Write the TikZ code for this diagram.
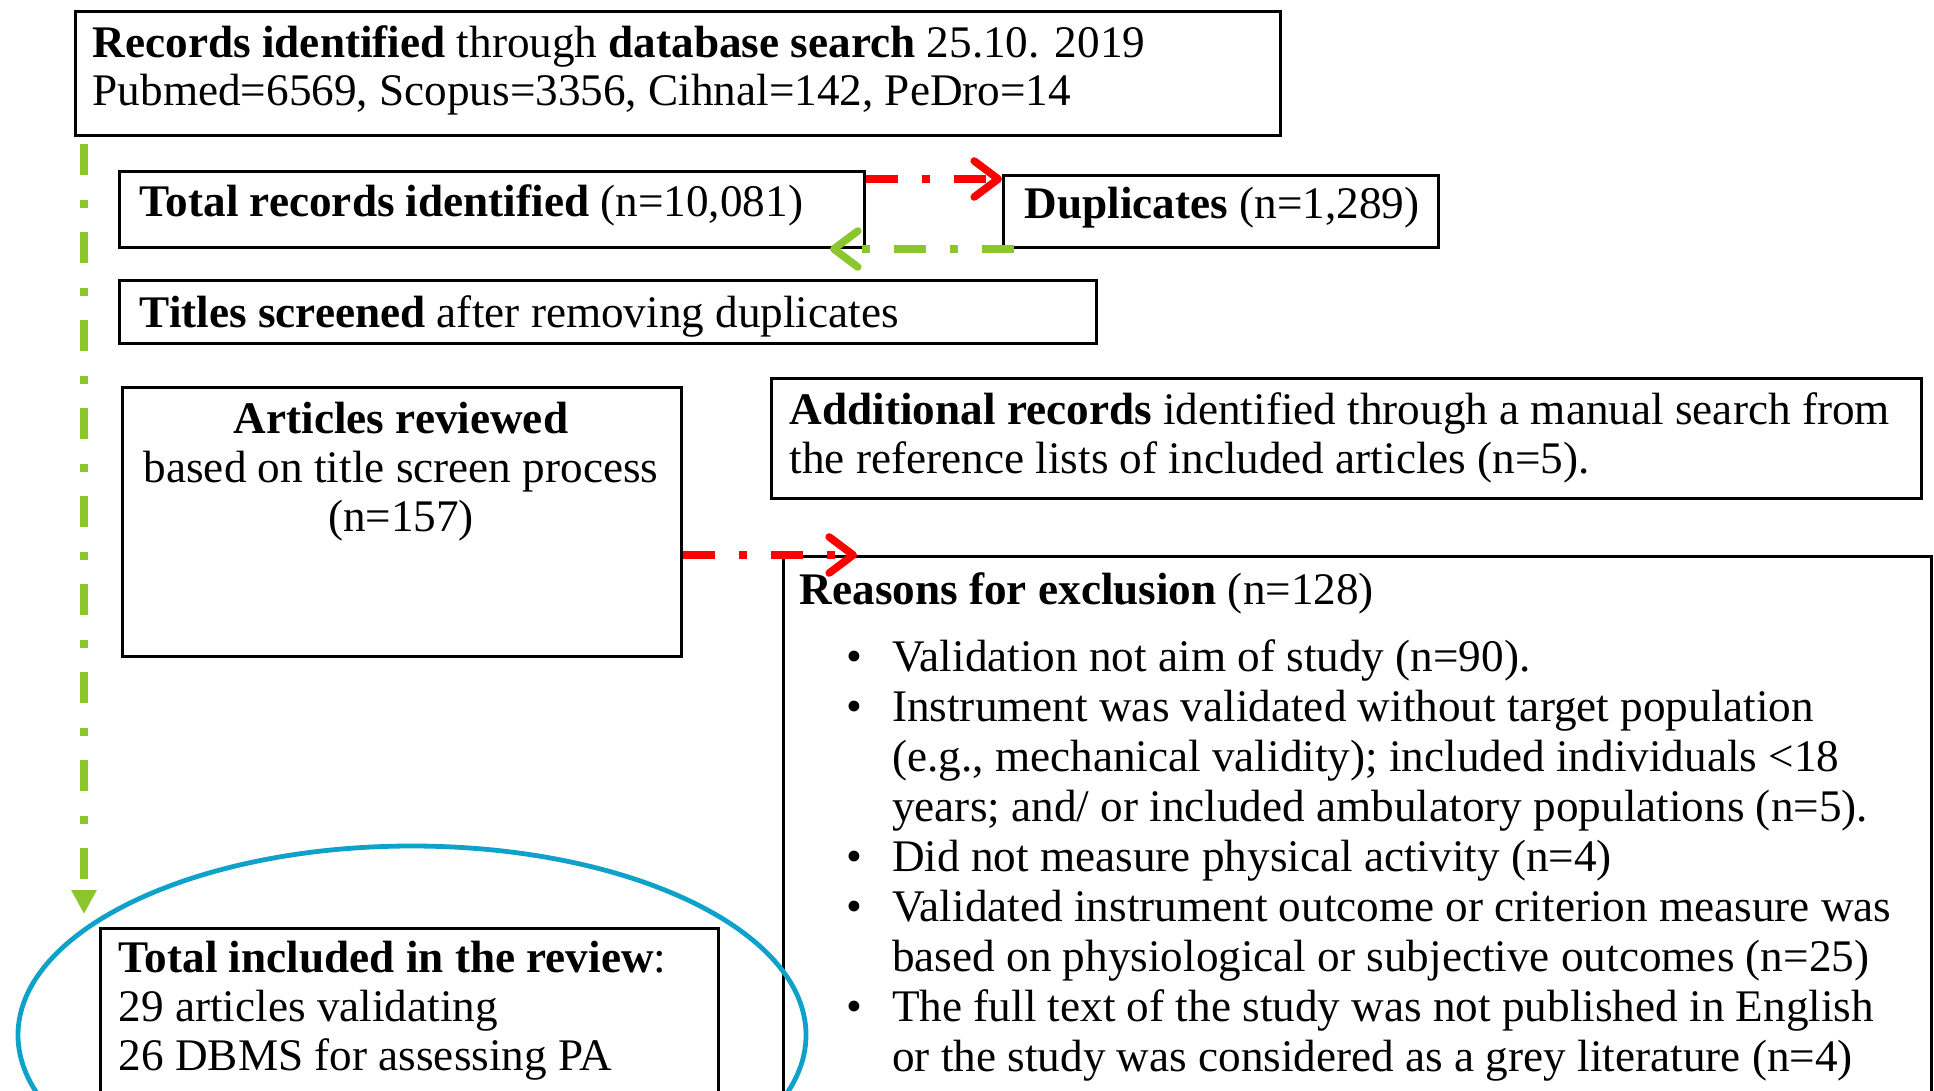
\documentclass[tikz,border=0pt]{standalone}
\usepackage{fontspec}
\setmainfont{Liberation Serif}
\usetikzlibrary{arrows.meta}

\definecolor{dashred}{RGB}{255,0,0}
\definecolor{dashgreen}{RGB}{140,198,45}
\definecolor{ringblue}{RGB}{14,161,201}

\tikzset{
  box/.style={draw, line width=0.75pt, inner sep=0pt, anchor=north west},
  txt/.style={inner sep=0pt, anchor=base west, align=left,
    font=\fontsize{11.3pt}{12.2pt}\selectfont},
  dashdot/.style={line width=1.9pt, dash pattern=on 8pt off 6pt on 2pt off 6pt},
  barb/.style={-{Straight Barb[length=6pt,width=9pt,round]}}
}

\begin{document}
\begin{tikzpicture}[x=0.25pt, y=-0.25pt]
  \useasboundingbox (0,0) rectangle (1934,1090);
  \clip (0,0) rectangle (1934,1090);

  % search and screening (multi-line texts sit on their last baseline)
  \node[box, minimum width=301.25pt, minimum height=31pt] (records) at (74,10) {};
  \node[txt] (recordstxt) at (92,106) {\textbf{Records identified} through \textbf{database search} 25.10. 2019\\
    Pubmed=6569, Scopus=3356, Cihnal=142, PeDro=14};

  \node[box, minimum width=186.25pt, minimum height=19pt] (total) at (118,170) {};
  \node[txt] (totaltxt) at (139,217) {\textbf{Total records identified} (n=10,081)};

  \node[box, minimum width=108.75pt, minimum height=18pt] (dup) at (1002,174) {};
  \node[txt] (duptxt) at (1024,219) {\textbf{Duplicates} (n=1,289)};

  \node[box, minimum width=244.25pt, minimum height=15.75pt] (titles) at (118,279) {};
  \node[txt] (titlestxt) at (139,327) {\textbf{Titles screened} after removing duplicates};

  \node[box, minimum width=139.75pt, minimum height=67.25pt] (articles) at (121,386) {};
  \node[txt, anchor=base, align=center] (articlestxt) at (401,531) {\textbf{Articles reviewed}\\
    based on title screen process\\ (n=157)};

  \node[box, minimum width=287.5pt, minimum height=30pt] (additional) at (770,377) {};
  \node[txt] (additionaltxt) at (789,473) {\textbf{Additional records} identified through a manual search from\\
    the reference lists of included articles (n=5).};

  % exclusions
  \node[box, minimum width=287pt, minimum height=150pt] (reasons) at (782,555) {};
  \node[txt] (reasonstxt) at (799,604) {\textbf{Reasons for exclusion} (n=128)};
  \node[txt, font=\fontsize{11.3pt}{12.5pt}\selectfont] (reasonlist) at (846,671) {%
    \begin{tabular}[t]{@{}l@{\hspace{7.4pt}}l@{}}
      \textbullet & Validation not aim of study (n=90).\\
      \textbullet & Instrument was validated without target population\\
                  & (e.g., mechanical validity); included individuals <18\\
                  & years; and/ or included ambulatory populations (n=5).\\
      \textbullet & Did not measure physical activity (n=4)\\
      \textbullet & Validated instrument outcome or criterion measure was\\
                  & based on physiological or subjective outcomes (n=25)\\
      \textbullet & The full text of the study was not published in English\\
                  & or the study was considered as a grey literature (n=4)
    \end{tabular}};

  % result
  \node[box, minimum width=154.5pt, minimum height=60pt] (included) at (99,927) {};
  \node[txt] (includedtxt) at (118,1070) {\textbf{Total included in the review}:\\
    29 articles validating\\ 26 DBMS for assessing PA};
  \draw[ringblue, line width=1.2pt] (412,1035) ellipse [x radius=98.5pt, y radius=47.25pt];

  % duplicates out and back
  \coordinate (dupin) at ([yshift=-2.25pt]total.north east);
  \draw[dashdot, barb, dashred] (dupin) -- (dupin -| dup.west);
  \coordinate (dupout) at ([xshift=3pt]dup.south west);
  \coordinate (dupback) at ([xshift=-9pt]total.south east);
  \draw[dashdot, barb, dashgreen] (dupout) -- (dupback);

  % excluded articles
  \coordinate (exclout) at (articles.east |- reasons.north);
  \draw[dashdot, barb, dashred] (exclout) -- ([xshift=18.75pt]reasons.north west);

  % flow down to the result
  \coordinate (greenstart) at ([xshift=2.5pt]records.south west);
  \coordinate (greentip) at ([shift={(-3.75pt,3.25pt)}]included.north west);
  \draw[dashgreen, line width=1.9pt, dash pattern=on 7.75pt off 6.25pt on 2pt off 6pt,
    dash phase=20.25pt, -{Triangle[length=6pt,width=6pt]}] (greenstart) -- (greentip);
\end{tikzpicture}
\end{document}
